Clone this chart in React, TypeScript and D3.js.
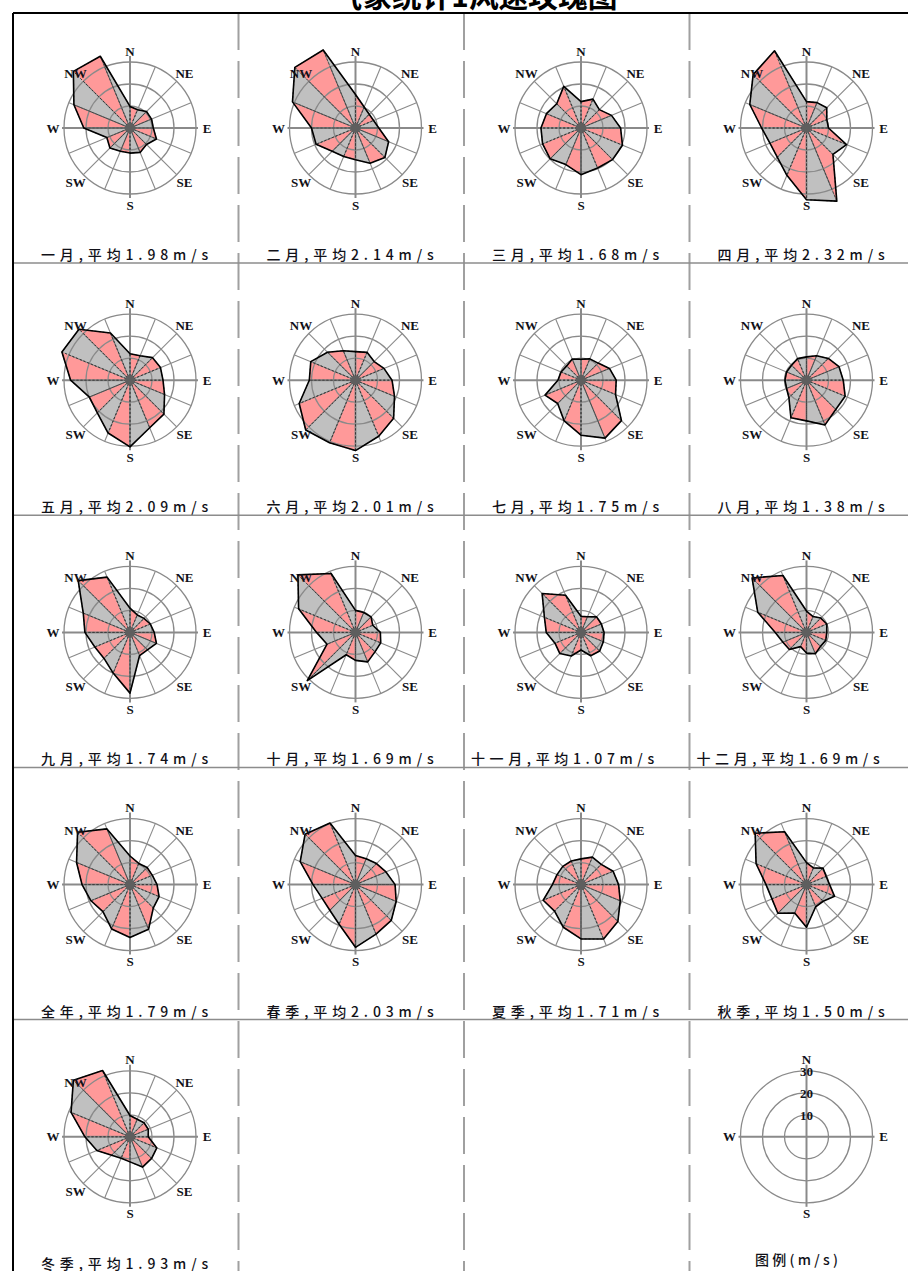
import React from "react";
import * as d3 from "d3";

// ---- data ----
const directions = ["N", "NNE", "NE", "ENE", "E", "ESE", "SE", "SSE", "S", "SSW", "SW", "WSW", "W", "WNW", "NW", "NNW"];
const compassLabels = ["N", "NE", "E", "SE", "S", "SW", "W", "NW"];
const legendLabels = ["N", "E", "S", "W"];
const legendTicks = [10, 20, 30];

const jan = [9.8, 9.0, 10.6, 10.6, 10.6, 13.0, 10.6, 12.0, 11.4, 11.4, 12.9, 11.4, 21.0, 27.6, 36.4, 35.3];
const feb = [15.2, 10.3, 8.8, 8.9, 10.6, 16.3, 18.9, 17.3, 14.4, 14.0, 15.0, 19.4, 20.0, 31.0, 39.0, 38.4];
const mar = [12.0, 14.2, 11.8, 15.0, 18.0, 20.4, 20.3, 19.7, 21.2, 18.0, 19.8, 18.9, 18.2, 17.0, 15.6, 20.5];
const apr = [12.0, 12.5, 13.0, 10.0, 10.0, 19.7, 17.0, 36.0, 32.6, 23.3, 18.8, 18.0, 20.4, 27.9, 34.3, 38.0];
const may = [12.0, 12.0, 14.5, 15.0, 15.0, 17.0, 21.8, 23.4, 30.3, 26.0, 21.0, 20.0, 27.0, 33.5, 32.8, 23.2];
const jun = [13.0, 13.7, 12.0, 14.0, 16.6, 19.2, 24.5, 27.6, 32.0, 30.8, 32.0, 27.7, 21.0, 22.0, 18.0, 14.5];
const jul = [9.5, 10.5, 11.0, 14.0, 16.0, 17.0, 26.0, 28.5, 25.0, 20.0, 15.0, 17.7, 10.5, 9.8, 9.2, 10.4];
const aug = [10.6, 12.0, 14.0, 16.0, 16.7, 19.0, 18.8, 22.0, 18.5, 18.5, 11.3, 9.8, 9.8, 9.8, 9.6, 10.6];
const sep = [11.0, 8.6, 9.0, 10.0, 11.0, 13.0, 11.2, 11.4, 27.6, 20.0, 16.7, 17.3, 20.5, 23.0, 33.3, 27.2];
const oct = [10.0, 9.8, 10.0, 8.5, 11.3, 12.4, 12.5, 14.5, 12.7, 11.0, 31.0, 14.0, 17.7, 28.0, 37.0, 29.0];
const nov = [7.3, 7.7, 10.0, 10.0, 10.5, 11.0, 12.0, 11.5, 8.0, 11.6, 13.6, 12.8, 15.8, 18.0, 25.0, 18.3];
const dec = [9.7, 7.8, 9.2, 10.0, 9.2, 9.5, 9.0, 10.5, 9.4, 7.0, 11.0, 11.6, 14.2, 24.0, 35.0, 28.0];
const yearAll = [13.0, 10.4, 11.0, 11.0, 12.3, 14.3, 15.0, 22.0, 24.0, 21.8, 17.4, 19.2, 21.8, 26.3, 33.7, 27.4];
const spring = [13.2, 12.7, 13.5, 15.0, 18.0, 20.0, 23.0, 24.4, 28.5, 19.5, 16.5, 16.4, 19.3, 27.2, 32.4, 30.3];
const summer = [11.7, 13.5, 13.0, 15.8, 17.1, 19.3, 23.7, 26.8, 24.7, 21.0, 17.0, 18.6, 13.0, 11.8, 11.7, 11.6];
const autumn = [10.0, 8.2, 10.6, 9.7, 10.5, 13.8, 10.7, 10.9, 19.4, 14.0, 18.4, 17.0, 18.4, 24.8, 33.0, 26.0];
const winter = [9.7, 8.6, 9.0, 9.0, 8.3, 13.2, 13.9, 14.9, 11.4, 10.5, 11.8, 16.3, 20.5, 29.0, 36.4, 32.6];

const roseNames = ["一月", "二月", "三月", "四月", "五月", "六月", "七月", "八月", "九月", "十月", "十一月", "十二月", "全年", "春季", "夏季", "秋季", "冬季"];
const roseMeans = ["1.98", "2.14", "1.68", "2.32", "2.09", "2.01", "1.75", "1.38", "1.74", "1.69", "1.07", "1.69", "1.79", "2.03", "1.71", "1.50", "1.93"];
const roseValues = [jan, feb, mar, apr, may, jun, jul, aug, sep, oct, nov, dec, yearAll, spring, summer, autumn, winter];

const titleText = "气象统计1风速玫瑰图";
const legendTitle = "图例(m/s)";

// ---- layout / style ----
const W = 908;
const H = 1271;
const FRAME_X = 13;
const FRAME_Y = 13;
const CELL_W = 225.5;
const ROW_H = 252.2;
const CX_OFF = 117;
const CY0 = 128;
const R_OUT = 66;
const PINK = "#ff9999";
const GRAY = "#c0c0c0";
const GRID = "#8a8a8a";
const TXT = "#111118";

const rScale = d3.scaleLinear().domain([0, 30]).range([0, R_OUT]);
const angleScale = d3.scaleLinear().domain([0, 16]).range([0, 2 * Math.PI]);
const radial = d3
  .lineRadial<{ a: number; r: number }>()
  .angle((d) => d.a)
  .radius((d) => d.r)
  .curve(d3.curveLinearClosed);

const polar = (a: number, r: number) => [r * Math.sin(a), -r * Math.cos(a)];

function Grid({ spokes }: { spokes: boolean }) {
  return (
    <g>
      {legendTicks.map((t) => (
        <circle key={t} r={rScale(t)} fill="none" stroke={GRID} strokeWidth={1.3} />
      ))}
      {spokes &&
        directions.map((d, i) => {
          if (i % 4 === 0) return null;
          const [x, y] = polar(angleScale(i), R_OUT);
          return <line key={d} x1={0} y1={0} x2={x} y2={y} stroke={GRID} strokeWidth={1.1} />;
        })}
      <line x1={0} y1={-72} x2={0} y2={70} stroke={GRID} strokeWidth={2} />
      <line x1={-68} y1={0} x2={68} y2={0} stroke={GRID} strokeWidth={2} />
    </g>
  );
}

function DirLabel({ x, y, t }: { x: number; y: number; t: string | number }) {
  return (
    <text
      x={x}
      y={y}
      textAnchor="middle"
      dominantBaseline="central"
      fontFamily="Liberation Serif, serif"
      fontWeight="bold"
      fontSize={13}
      fill={TXT}
    >
      {t}
    </text>
  );
}

function Rose({ cx, cy, values }: { cx: number; cy: number; values: number[] }) {
  const pts = values.map((v, i) => ({ a: angleScale(i), r: rScale(v) }));
  const tris = pts.map((p, i) => ({
    d: radial([{ a: p.a, r: 0 }, p, pts[(i + 1) % pts.length]]) || "",
    fill: i % 2 === 0 ? PINK : GRAY,
  }));
  return (
    <g transform={`translate(${cx},${cy})`}>
      {tris.map((t, i) => (
        <path key={i} d={t.d} fill={t.fill} stroke="none" />
      ))}
      <Grid spokes={true} />
      {tris.map((t, i) => (
        <path key={"e" + i} d={t.d} fill="none" stroke="#333" strokeWidth={0.8} strokeDasharray="2 2" />
      ))}
      <path d={radial(pts) || ""} fill="none" stroke="#000" strokeWidth={1.6} strokeLinejoin="round" />
      <circle r={5} fill="#5e5e5e" />
      {compassLabels.map((l, k) => {
        const [x, y] = polar((k * Math.PI) / 4, 77);
        return <DirLabel key={l} x={x} y={y} t={l} />;
      })}
    </g>
  );
}

function Legend({ cx, cy }: { cx: number; cy: number }) {
  return (
    <g transform={`translate(${cx},${cy})`}>
      <Grid spokes={false} />
      {legendLabels.map((l, k) => {
        const [x, y] = polar((k * Math.PI) / 2, 77);
        return <DirLabel key={l} x={x} y={y} t={l} />;
      })}
      {legendTicks.map((t) => (
        <DirLabel key={t} x={0} y={-rScale(t) + 1} t={t} />
      ))}
    </g>
  );
}

const isCJK = (c: string) => /[\u3000-\u9fff\uff00-\uffef]/.test(c);

export default function App() {
  const cellX = (c: number) => FRAME_X + c * CELL_W;
  const cyOf = (r: number) => CY0 + r * ROW_H;
  const nRows = 5;
  return (
    <svg width={W} height={H} style={{ position: "absolute", left: 0, top: 0, background: "#fff" }}>
      <rect x={0} y={0} width={W} height={H} fill="#fff" />
      <text
        x={475}
        y={7}
        textAnchor="middle"
        fontFamily="Noto Sans CJK SC, sans-serif"
        fontWeight="bold"
        fontSize={30}
        textLength={285}
        lengthAdjust="spacingAndGlyphs"
        fill="#000"
      >
        {titleText}
      </text>
      {[1, 2, 3].map((c) => (
        <line key={c} x1={cellX(c)} y1={FRAME_Y} x2={cellX(c)} y2={H} stroke="#a0a0a0" strokeWidth={2} strokeDasharray="37 11" />
      ))}
      {d3.range(nRows - 1).map((r) => (
        <line key={r} x1={FRAME_X} y1={cyOf(r) + 135} x2={W} y2={cyOf(r) + 135} stroke="#8c8c8c" strokeWidth={1.5} />
      ))}
      <line x1={FRAME_X} y1={FRAME_Y} x2={W} y2={FRAME_Y} stroke="#000" strokeWidth={2} />
      <line x1={FRAME_X} y1={FRAME_Y} x2={FRAME_X} y2={H} stroke="#000" strokeWidth={2} />

      {roseValues.map((vals, i) => {
        const c = i % 4;
        const r = Math.floor(i / 4);
        const cx = cellX(c) + CX_OFF;
        const cy = cyOf(r);
        const label = `${roseNames[i]},平均${roseMeans[i]}m/s`;
        const chars = Array.from(label);
        const nC = chars.filter(isCJK).length;
        const nA = chars.length - nC;
        const len = nC * 16 + nA * 12.9;
        const startX = cellX(c) + (nC >= 5 ? 7 : 28);
        return (
          <g key={i}>
            <Rose cx={cx} cy={cy} values={vals} />
            <text
              x={startX}
              y={cy + 132}
              fontFamily="Noto Sans CJK SC, sans-serif"
              fontWeight={500}
              fontSize={14}
              textLength={len}
              lengthAdjust="spacing"
              fill={TXT}
            >
              {label}
            </text>
          </g>
        );
      })}
      <Legend cx={cellX(3) + CX_OFF} cy={cyOf(4)} />
      <text
        x={cellX(3) + 107}
        y={cyOf(4) + 128}
        textAnchor="middle"
        fontFamily="Noto Sans CJK SC, sans-serif"
        fontWeight={500}
        fontSize={14}
        textLength={83}
        lengthAdjust="spacing"
        fill={TXT}
      >
        {legendTitle}
      </text>
    </svg>
  );
}
